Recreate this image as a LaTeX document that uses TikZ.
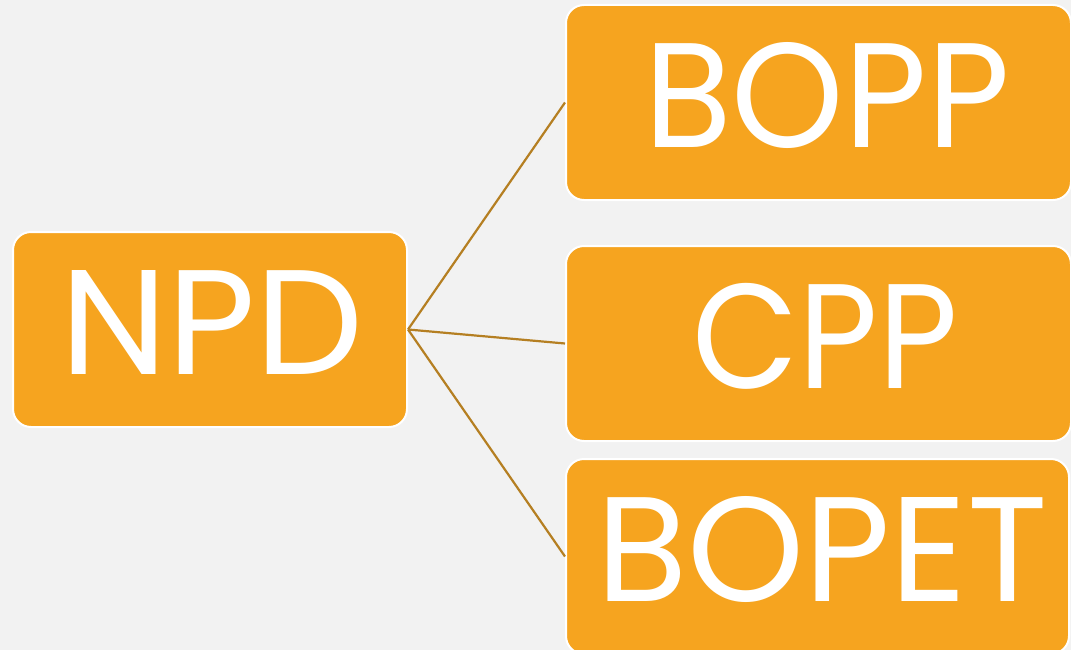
\documentclass[tikz,border=0pt]{standalone}
\usepackage{fontspec}
\setmainfont{Poppins}
\definecolor{bg}{HTML}{F2F2F2}
\definecolor{boxfill}{HTML}{F6A41F}
\definecolor{linkcol}{HTML}{B57F22}
\begin{document}
\begin{tikzpicture}[x=1pt,y=-1pt,
  box/.style={draw=white,line width=2pt,fill=boxfill,rounded corners=18pt,inner sep=0pt},
  lbl/.style={text=white,inner sep=0pt,anchor=base,font=\fontsize{149}{149}\selectfont},
  link/.style={draw=linkcol,line width=2.2pt}]
\useasboundingbox[fill=bg] (0,0) rectangle (1071,650);
\begin{scope}
\clip (0,0) rectangle (1071,650);
\node[box,minimum width=394pt,minimum height=195pt] (npd) at (210,329.5) {};
\node[box,minimum width=505pt,minimum height=195pt] (bopp) at (818.5,102.5) {};
\node[box,minimum width=505pt,minimum height=195pt] (cpp) at (818.5,343.5) {};
\node[box,minimum width=503pt,minimum height=195pt] (bopet) at (817.5,556.5) {};
\draw[link] (npd.east) -- (bopp.west);
\draw[link] (npd.east) -- (cpp.west);
\draw[link] (npd.east) -- (bopet.west);
\node[lbl,xscale=1.025] (npdt) at (212,374) {NPD};
\node[lbl,xscale=0.96] (boppt) at (827,148) {BOPP};
\node[lbl,xscale=0.925] (cppt) at (825,388) {CPP};
\node[lbl] (bopett) at (822,601) {BOPET};
\end{scope}
\end{tikzpicture}
\end{document}
